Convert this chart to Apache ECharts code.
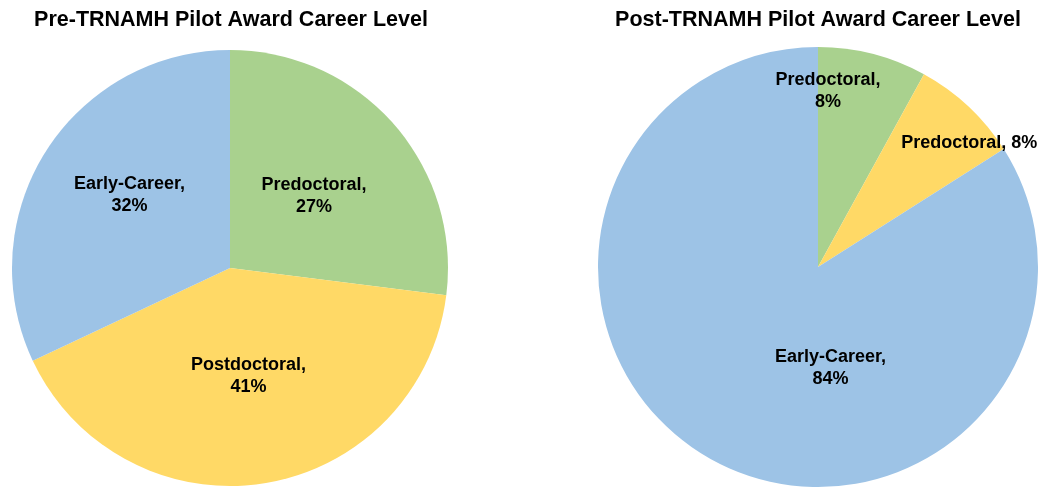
<!DOCTYPE html>
<html>
<head>
<meta charset="utf-8">
<script src="https://cdn.jsdelivr.net/npm/echarts@6/dist/echarts.min.js"></script>
<style>
  html, body { margin: 0; padding: 0; background: #fff; }
  #chart { width: 1050px; height: 495px; }
</style>
</head>
<body>
<div id="chart"></div>
<script>
  var preNames = ['Predoctoral', 'Postdoctoral', 'Early-Career'];
  var preValues = [27, 41, 32];
  var postNames = ['Predoctoral', 'Predoctoral', 'Early-Career'];
  var postValues = [8, 8, 84];
  var sliceColors = ['#a9d18e', '#ffd966', '#9dc3e6'];

  // label nudges so they sit where the original placed them
  var preOffsets = [[0, 2], [1, -3], [-6, -13]];
  var postOffsets = [[-18, -67], [74, -42], [67, 2]];

  function buildData(names, values, offsets, oneLine) {
    return names.map(function (n, i) {
      return {
        name: n,
        value: values[i],
        itemStyle: { color: sliceColors[i] },
        label: {
          offset: offsets[i],
          formatter: oneLine[i] ? '{b}, {c}%' : '{b},\n{c}%'
        }
      };
    });
  }

  var chart = echarts.init(document.getElementById('chart'), null, { renderer: 'canvas' });

  var labelStyle = {
    show: true,
    position: 'inside',
    color: '#000',
    fontFamily: 'Liberation Sans, Arial, sans-serif',
    fontWeight: 'bold',
    fontSize: 18,
    lineHeight: 22
  };

  var titleStyle = {
    color: '#000',
    fontFamily: 'Liberation Sans, Arial, sans-serif',
    fontWeight: 'bold',
    fontSize: 21.5
  };

  chart.setOption({
    animation: false,
    title: [
      { text: 'Pre-TRNAMH Pilot Award Career Level', left: 226, top: 4, textAlign: 'center', textStyle: titleStyle },
      { text: 'Post-TRNAMH Pilot Award Career Level', left: 813, top: 4, textAlign: 'center', textStyle: titleStyle }
    ],
    series: [
      {
        type: 'pie',
        center: [230, 268],
        radius: 218,
        startAngle: 90,
        clockwise: true,
        label: labelStyle,
        labelLine: { show: false },
        emphasis: { disabled: true },
        itemStyle: { borderWidth: 0 },
        data: buildData(preNames, preValues, preOffsets, [false, false, false])
      },
      {
        type: 'pie',
        center: [818, 267],
        radius: 220,
        startAngle: 90,
        clockwise: true,
        label: labelStyle,
        labelLine: { show: false },
        emphasis: { disabled: true },
        itemStyle: { borderWidth: 0 },
        data: buildData(postNames, postValues, postOffsets, [false, true, false])
      }
    ]
  });
</script>
</body>
</html>
